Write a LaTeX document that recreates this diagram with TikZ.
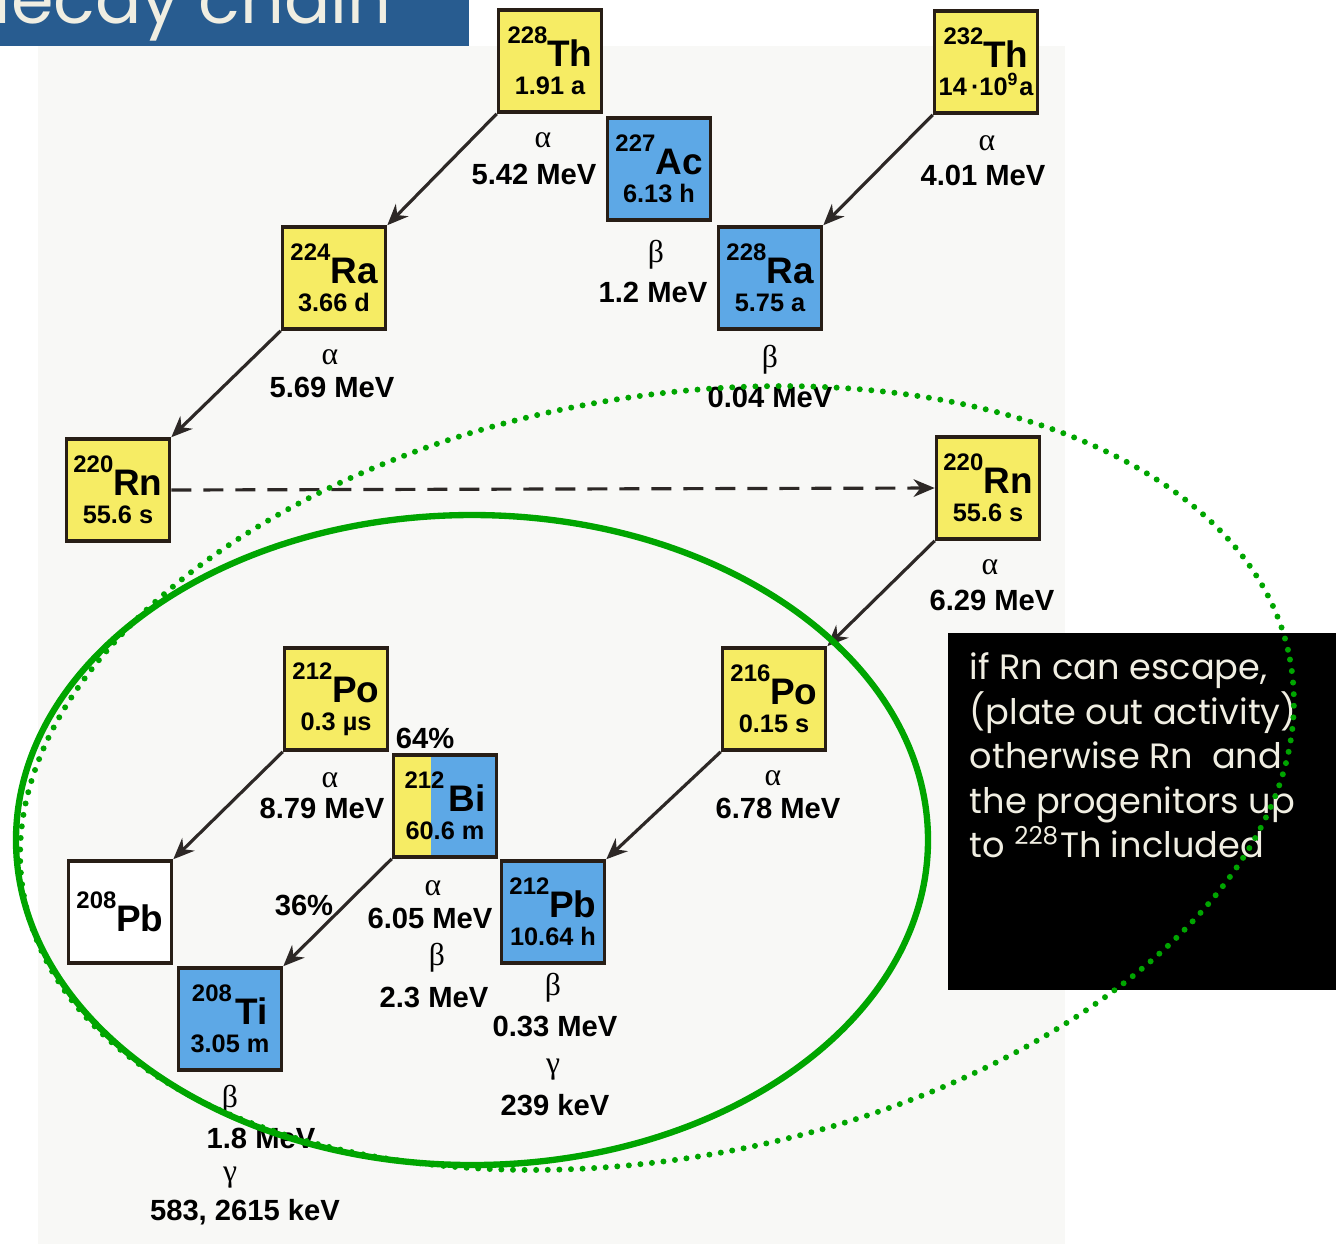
\documentclass[tikz,border=0pt]{standalone}
\usepackage{fontspec}
\setmainfont{Liberation Sans}
\newfontfamily\greekfont{Liberation Serif}
\newfontfamily\handfont{Poppins}
\usetikzlibrary{arrows.meta}

\definecolor{nucyellow}{RGB}{246,236,100}
\definecolor{nucblue}{RGB}{93,168,230}
\definecolor{nucline}{RGB}{40,30,22}
\definecolor{arrowgray}{RGB}{45,40,38}
\definecolor{titleblue}{RGB}{40,92,144}
\definecolor{ellgreen}{RGB}{0,165,0}
\definecolor{paper}{RGB}{248,248,246}
\definecolor{handwhite}{RGB}{240,238,226}

\newcommand\nucl[3]{{\fontsize{6.8}{7}\selectfont\raisebox{6.5pt}{#1}}{\fontsize{10.5}{11}\selectfont #2}\\#3}

\tikzset{
  nuc/.style={draw=nucline, line width=1pt, minimum width=1.03cm, minimum height=1.02cm,
    inner sep=0pt, align=center, font=\bfseries\fontsize{7.2}{8}\selectfont},
  yel/.style={nuc, fill=nucyellow},
  blu/.style={nuc, fill=nucblue},
  decay/.style={draw=arrowgray, line width=0.9pt, -{Stealth[length=6pt,width=5pt]}},
  sym/.style={inner sep=0pt, font=\greekfont\fontsize{9}{9}\selectfont},
  en/.style={inner sep=0pt, font=\bfseries\fontsize{8.3}{9}\selectfont},
}

\begin{document}
\begin{tikzpicture}[x=0.01cm, y=-0.01cm]
  \useasboundingbox (0,0) rectangle (1336,1244);
  \fill[paper] (38,46) rectangle (1065,1244);

  % title bar
  \begin{scope}
    \clip (0,0) rectangle (469,46);
    \fill[titleblue] (0,0) rectangle (469,46);
    \node[anchor=base east, inner sep=0pt, text=handwhite, font=\handfont\fontsize{19.5}{19.5}\selectfont] (title) at (392,23) {decay chain};
  \end{scope}

  % nuclides
  \node[yel] (th228) at (550,61)   {\nucl{228}{Th}{1.91 a}};
  \node[yel] (th232) at (986,62)   {\nucl{232}{Th}{14\,·10\textsuperscript{9}a}};
  \node[blu] (ac227) at (659,169)  {\nucl{227}{Ac}{6.13 h}};
  \node[blu] (ra228) at (770,278)  {\nucl{228}{Ra}{5.75 a}};
  \node[yel] (ra224) at (334,278)  {\nucl{224}{Ra}{3.66 d}};
  \node[yel] (rnA)   at (118,490)  {\nucl{220}{Rn}{55.6 s}};
  \node[yel] (rnB)   at (988,488)  {\nucl{220}{Rn}{55.6 s}};
  \node[yel] (po216) at (774,699)  {\nucl{216}{Po}{0.15 s}};
  \node[yel] (po212) at (336,699)  {\nucl{212}{Po}{0.3 µs}};
  \node[blu, path picture={\fill[nucyellow] (path picture bounding box.south west) rectangle ([xshift=0.38cm]path picture bounding box.north west);}]
             (bi212) at (445,806)  {\nucl{212\,}{Bi}{60.6 m}};
  \node[blu] (pb212) at (553,912)  {\nucl{212}{Pb}{10.64 h}};
  \node[nuc, fill=white] (pb208) at (120,912) {{\fontsize{6.8}{7}\selectfont\raisebox{6.5pt}{208}}{\fontsize{10.5}{11}\selectfont Pb}};
  \node[blu] (tl208) at (230,1019) {\nucl{208\,}{Ti}{3.05 m}};

  % decays
  \draw[decay] (th228.south west) -- (ra224.north east);
  \draw[decay] (th232.south west) -- (ra228.north east);
  \draw[decay] (ra224.south west) -- (rnA.north east);
  \draw[decay, dash pattern=on 5.7pt off 3.4pt] (rnA.east) -- (rnB.west);
  \draw[decay] (rnB.south west) -- (po216.north east);
  \draw[decay] (po216.south west) -- (pb212.north east);
  \draw[decay] (po212.south west) -- (pb208.north east);
  \draw[decay] (bi212.south west) -- (tl208.north east);

  % energies
  \node[sym] (a1) at (543,140) {α};   \node[en] (e1) at (534,174) {5.42 MeV};
  \node[sym] (a2) at (987,143) {α};   \node[en] (e2) at (983,175) {4.01 MeV};
  \node[sym] (b1) at (656,255) {β};   \node[en] (e3) at (653,292) {1.2 MeV};
  \node[sym] (a3) at (330,357) {α};   \node[en] (e4) at (332,387) {5.69 MeV};
  \node[sym] (b2) at (770,360) {β};   \node[en] (e5) at (770,397) {0.04 MeV};
  \node[sym] (a4) at (990,567) {α};   \node[en] (e6) at (992,600) {6.29 MeV};
  \node[sym] (a5) at (330,780) {α};   \node[en] (e7) at (322,808) {8.79 MeV};
  \node[sym] (a6) at (773,778) {α};   \node[en] (e8) at (778,808) {6.78 MeV};
  \node[sym] (a7) at (433,888) {α};   \node[en] (e9) at (430,918) {6.05 MeV};
  \node[sym] (b3) at (437,958) {β};   \node[en] (e10) at (434,997) {2.3 MeV};
  \node[sym] (b4) at (553,988) {β};   \node[en] (e11) at (555,1026) {0.33 MeV};
  \node[sym] (g1) at (553,1070) {γ};  \node[en] (e12) at (555,1105) {239 keV};
  \node[sym] (b5) at (230,1100) {β};  \node[en] (e13) at (261,1138) {1.8 MeV};
  \node[sym] (g2) at (230,1178) {γ};  \node[en] (e14) at (245,1212) {583, 2615 keV};
  \node[en] (p64) at (425,738) {64\%};
  \node[en] (p36) at (304,905) {36\%};

  % note
  \fill[black] (948,633) rectangle (1336,990);
  \node[anchor=north west, inner sep=0pt, align=left, text=handwhite,
        font=\handfont\fontsize{10}{12.66}\selectfont] (note) at (969,652)
    {if Rn can escape,\\(plate out activity)\\otherwise Rn\ \ and\\the progenitors up\\to \textsuperscript{228}Th included};

  % plate out regions
  \draw[ellgreen, line width=1.7pt, line cap=round, dash pattern=on 0pt off 3.3pt,
        rotate around={10.6:(657,778)}] (657,778) ellipse [x radius=644, y radius=380];
  \draw[ellgreen, line width=1.8pt] (472,840) ellipse [x radius=456, y radius=325];
\end{tikzpicture}
\end{document}
